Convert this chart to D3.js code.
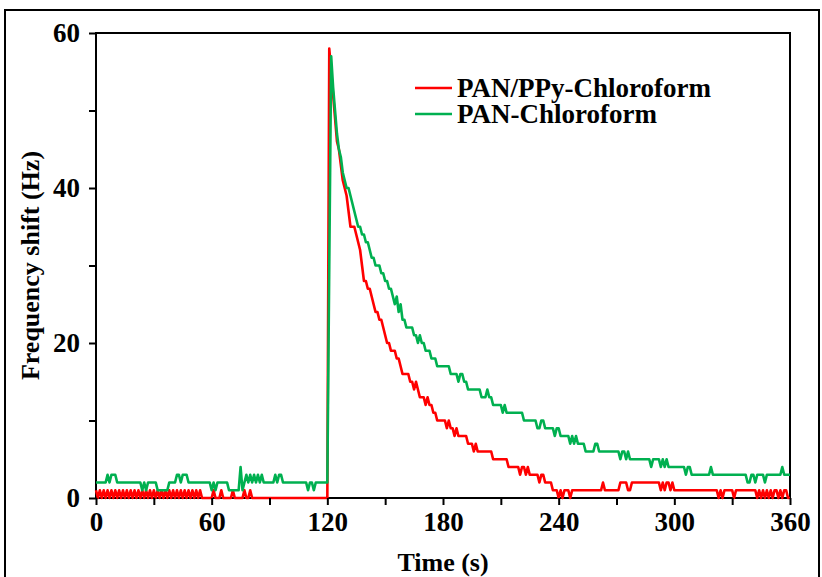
<!DOCTYPE html>
<html lang="en">
<head>
    <meta charset="UTF-8">
    <title>Frequency shift vs time</title>
    <style>
        body, html {
          margin: 0;
          width: 100%;
          height: 100%;
          background: #fff;
        }

        svg {
          display: block;
        }

        text {
            font-family: "Liberation Serif", "Times New Roman", serif;
            font-weight: bold;
            fill: #000;
        }

        .series {
            fill: none;
            stroke-width: 2.6px;
            stroke-linejoin: round;
        }
    </style>
</head>
<body>
    <svg width="822" height="577"></svg>

    <script src="https://d3js.org/d3.v7.min.js"></script>
    <script>

        // sample clock: one reading per second, 0..360 s
        const time = d3.range(0, 361);

        const seriesNames = ["PAN/PPy-Chloroform", "PAN-Chloroform"];
        const seriesColors = ["#ff0000", "#00b050"];

        // PAN/PPy-Chloroform, Hz, t = 0..360
        const panPpy = [
            1,0,1,0,1,0,1,0,1,0, 1,0,1,0,1,0,1,0,1,0,
            1,0,1,0,1,0,1,0,1,0, 1,0,1,0,1,0,1,0,1,0,
            1,0,1,0,1,0,1,0,1,0, 1,0,1,0,1,0,0,0,0,0,
            0,1,0,0,0,1,0,0,0,0, 0,1,0,0,0,0,0,1,0,0,
            1,0,0,0,0,0,0,0,0,0, 0,0,0,0,0,0,0,0,0,0,
            0,0,0,0,0,0,0,0,0,0, 0,0,0,0,0,0,0,0,0,0,
            0,
            58,55,52,49,46,45,43,41,40,39,
            37,35,35,35,34,33,32,30,28,28,
            27,27,26,25,24,24,23,23,22,21,
            20,20,19,19,19,18,18,17,16,16,
            16,16,15,15,14,15,14,13,13,13,
            12,13,12,12,11,11,10,10,10,10,
            10,9,10,9,9,8,9,8,8,8,
            8,8,7,7,7,6,7,6,6,6,
            6,6,6,6,6,5,5,5,5,5,
            5,5,5,4,4,4,4,4,4,3,
            4,4,3,4,3,3,3,3,3,2,
            3,3,2,2,2,2,1,1,1,0,
            1,0,1,1,1,0,1,1,1,1,
            1,1,1,1,1,1,1,1,1,1,
            1,1,2,1,1,1,1,1,1,1,
            1,2,2,2,2,1,1,2,2,2,
            2,2,2,2,2,2,2,2,2,2,
            2,2,1,2,1,2,2,1,2,1,
            1,1,1,1,1,1,1,1,1,1,
            1,1,1,1,1,1,1,1,1,1,
            1,1,0,1,0,1,1,1,1,1,
            0,1,1,1,1,1,1,1,1,1,
            1,1,0,1,0,1,0,1,0,1,
            0,1,1,0,1,0,1,1,0,0
        ];

        // PAN-Chloroform, Hz, t = 0..360
        const pan = [
            2,2,2,2,2,2,3,2,3,3, 3,2,2,2,2,2,2,2,2,2,
            2,2,2,2,1,2,1,2,2,2, 2,2,1,1,1,1,1,1,2,2,
            2,2,3,3,2,3,3,3,2,2, 2,2,2,2,2,2,2,2,2,2,
            1,2,1,2,2,2,2,2,2,1, 1,1,1,1,1,4,1,2,3,2,
            3,2,3,2,3,2,3,2,2,2, 2,2,2,3,2,3,3,2,2,2,
            2,2,2,2,2,2,2,2,2,2, 1,2,2,1,2,2,2,2,2,2,
            2,
            30,57,53,50,47,45,44,42,41,40,
            40,39,38,37,36,35,35,34,34,33,
            33,32,31,31,30,30,30,29,29,28,
            28,27,27,26,25,26,24,25,23,23,
            22,22,22,22,21,21,20,21,20,20,
            19,19,19,18,18,18,17,17,17,17,
            17,17,17,16,16,16,16,15,16,16,
            15,15,14,14,14,14,14,14,14,13,
            13,13,14,13,13,12,12,12,12,12,
            11,12,11,11,11,11,11,11,11,11,
            11,10,10,10,10,10,10,10,9,9,
            10,10,9,9,9,9,9,8,9,9,
            8,8,8,8,8,7,8,7,8,7,
            7,7,7,6,6,6,6,6,7,7,
            6,6,6,6,6,6,6,6,6,6,
            6,5,6,6,5,6,5,5,5,5,
            5,5,5,5,5,5,5,4,5,5,
            5,5,4,5,4,5,4,4,4,4,
            4,4,4,4,4,3,4,4,3,3,
            3,3,3,3,3,3,3,3,4,3,
            3,3,3,3,3,3,3,3,3,3,
            3,3,3,3,3,3,3,2,2,3,
            3,2,3,3,3,3,2,3,3,3,
            3,3,3,3,3,4,3,3,3,3
        ];

        const xMajor = [0, 60, 120, 180, 240, 300, 360];
        const xMinor = [30, 90, 150, 210, 270, 330];
        const yMajor = [0, 20, 40, 60];
        const yMinor = [10, 30, 50];

        const svg = d3.select("svg");
        const plot = { left: 96, right: 790, top: 33, bottom: 498 };

        const x = d3.scaleLinear().domain([0, 360]).range([plot.left, plot.right]);
        const y = d3.scaleLinear().domain([0, 60]).range([plot.bottom, plot.top]);

        // outer frame
        svg.append("rect")
            .attr("x", 5).attr("y", 10)
            .attr("width", 814).attr("height", 600)
            .attr("fill", "none")
            .attr("stroke", "#000")
            .attr("stroke-width", 2);

        // plot box
        svg.append("rect")
            .attr("x", plot.left).attr("y", plot.top)
            .attr("width", plot.right - plot.left).attr("height", plot.bottom - plot.top)
            .attr("fill", "none")
            .attr("stroke", "#000")
            .attr("stroke-width", 2);

        const line = d3.line()
            .x((d, i) => x(time[i]))
            .y(d => y(d));

        [panPpy, pan].forEach((vals, k) => {
            svg.append("path")
                .attr("class", "series")
                .attr("stroke", seriesColors[k])
                .attr("d", line(vals));
        });

        // axes
        svg.append("g").attr("transform", `translate(0,${plot.bottom})`)
            .call(d3.axisBottom(x).tickValues(xMajor).tickSize(7).tickPadding(7));
        svg.append("g").attr("transform", `translate(0,${plot.bottom})`)
            .call(d3.axisBottom(x).tickValues(xMinor).tickSize(7).tickFormat(""));
        svg.append("g").attr("transform", `translate(${plot.left},0)`)
            .call(d3.axisLeft(y).tickValues(yMajor).tickSize(7).tickPadding(9));
        svg.append("g").attr("transform", `translate(${plot.left},0)`)
            .call(d3.axisLeft(y).tickValues(yMinor).tickSize(7).tickFormat(""));

        svg.selectAll(".domain").remove();
        svg.selectAll(".tick line").attr("stroke", "#000").attr("stroke-width", 2);
        svg.selectAll(".tick text")
            .style("font-family", '"Liberation Serif", "Times New Roman", serif')
            .style("font-weight", "bold")
            .style("font-size", "27px");

        svg.append("text")
            .attr("x", (plot.left + plot.right) / 2)
            .attr("y", 571)
            .attr("text-anchor", "middle")
            .style("font-size", "26px")
            .text("Time (s)");

        svg.append("text")
            .attr("transform", `translate(39,${(plot.top + plot.bottom) / 2}) rotate(-90)`)
            .attr("text-anchor", "middle")
            .style("font-size", "26px")
            .text("Frequency shift (Hz)");

        // legend
        const legend = svg.append("g").attr("transform", "translate(415,88)");
        seriesNames.forEach((name, k) => {
            const g = legend.append("g").attr("transform", `translate(0,${k * 26})`);
            g.append("line")
                .attr("x1", 0).attr("x2", 37)
                .attr("stroke", seriesColors[k])
                .attr("stroke-width", 2.6);
            g.append("text")
                .attr("x", 42).attr("y", 9)
                .style("font-size", "27px")
                .text(name);
        });

    </script>
</body>
</html>
